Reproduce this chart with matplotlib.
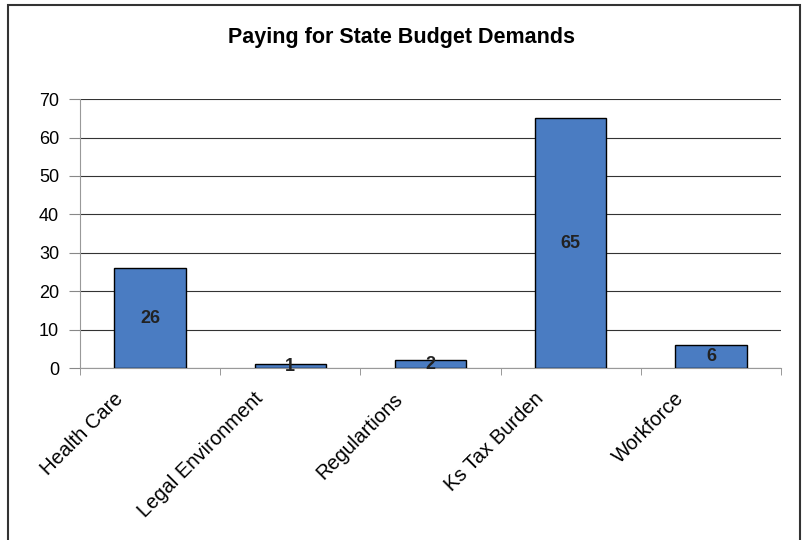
import matplotlib
matplotlib.use("Agg")
import matplotlib.pyplot as plt
from matplotlib.patches import Rectangle
from matplotlib.transforms import ScaledTranslation

categories = ["Health Care", "Legal Environment", "Regulartions", "Ks Tax Burden", "Workforce"]
values = [26, 1, 2, 65, 6]
yticks = [0, 10, 20, 30, 40, 50, 60, 70]

plt.rcParams["font.family"] = ["Liberation Sans", "DejaVu Sans"]

fig = plt.figure(figsize=(8.04, 5.40), dpi=100)
ax = fig.add_axes([0.0995, 0.3185, 0.8719, 0.498])

x = list(range(len(categories)))
bars = ax.bar(x, values, width=0.51, color="#4A7CC2", edgecolor="black", linewidth=1, zorder=3)
for xi, v in zip(x, values):
    ax.text(xi, v / 2, str(v), ha="center", va="center", fontsize=13, fontweight="bold",
            color="#222222", zorder=4)

ax.set_xlim(-0.5, len(categories) - 0.5)
ax.set_ylim(0, 70)
ax.set_yticks(yticks)
ax.set_yticklabels([str(t) for t in yticks], fontsize=13)
ax.yaxis.grid(True, color="#333333", linewidth=0.8, zorder=0)
ax.tick_params(axis="y", length=8, color="#888888", pad=7)

# category labels, rotated like the spreadsheet chart
ax.set_xticks(x)
ax.set_xticklabels([])
shift = ScaledTranslation(-0.37, -0.21, fig.dpi_scale_trans)
for xi, cat in zip(x, categories):
    ax.text(xi, 0, cat, rotation=45, ha="right", va="top", rotation_mode="anchor",
            fontsize=14.5, transform=ax.get_xaxis_transform() + shift)
ax.set_xticks([i - 0.5 for i in range(len(categories) + 1)], minor=True)
ax.tick_params(axis="x", which="major", length=0)
ax.tick_params(axis="x", which="minor", length=5, color="#888888")

for side in ["top", "right"]:
    ax.spines[side].set_visible(False)
ax.spines["left"].set_color("#999999")
ax.spines["bottom"].set_color("#999999")

fig.text(0.5, 0.931, "Paying for State Budget Demands", ha="center", va="center",
         fontsize=15.5, fontweight="bold")

fig.patches.append(Rectangle((0.01, -0.01), 0.985, 1.0, transform=fig.transFigure,
                             fill=False, edgecolor="#333333", linewidth=1.5))

fig.savefig("out.png", dpi=100)
